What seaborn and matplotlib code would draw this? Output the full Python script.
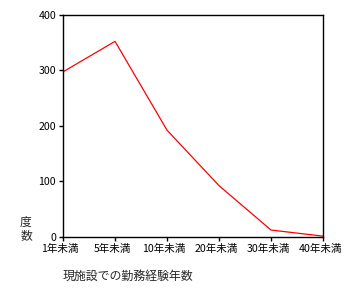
import matplotlib
matplotlib.use("Agg")
import matplotlib.pyplot as plt
import matplotlib.transforms as mtrans
import seaborn as sns
import pandas as pd

categories = ["1年未満", "5年未満", "10年未満", "20年未満", "30年未満", "40年未満"]
values = [297, 352, 192, 92, 12, 1]
y_ticks = [0, 100, 200, 300, 400]
x_title = "現施設での勤務経験年数"
y_title = "度\n数"

sns.set_style("ticks")
plt.rcParams['font.family'] = ['Noto Sans CJK JP', 'DejaVu Sans']

df = pd.DataFrame({"cat": categories, "val": values})

fig = plt.figure(figsize=(3.62, 2.90), dpi=100)
ax = fig.add_axes([63/362, 1-236.7/290, (323-63)/362, (236.7-14.7)/290])
sns.lineplot(data=df, x="cat", y="val", sort=False, color="#ff0000", linewidth=0.9, ax=ax)
ax.set_xlim(0, len(categories) - 1)
ax.set_ylim(0, 400)
ax.set_yticks(y_ticks)
ax.set_xlabel("")
ax.set_ylabel("")
for s in ax.spines.values():
    s.set_visible(True)
    s.set_color("black")
    s.set_linewidth(1.0)
ax.tick_params(axis="both", direction="out", length=3, width=1, colors="black", labelsize=7.6, pad=2)
offset = mtrans.ScaledTranslation(-3/100, 0, fig.dpi_scale_trans)
for lbl in ax.get_xticklabels():
    lbl.set_transform(lbl.get_transform() + offset)
ax.grid(False)
fig.text(128/362, 1-276/290, x_title, ha="center", va="center", fontsize=8.6)
fig.text(26/362, 1-229/290, y_title, ha="center", va="center", fontsize=8.5, linespacing=1.0)
fig.savefig("out.png", dpi=100)
